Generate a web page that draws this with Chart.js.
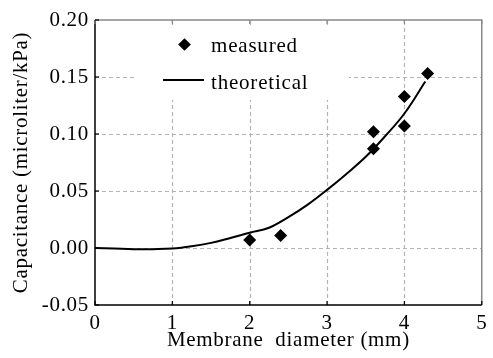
<!DOCTYPE html>
<html>
<head>
<meta charset="utf-8">
<script src="https://cdn.jsdelivr.net/npm/chart.js@4.4.1/dist/chart.umd.min.js"></script>
<style>
  body { margin: 0; background: #fff; }
  #wrap { position: relative; width: 493px; height: 358px; }
  .leg { position: absolute; font-family: 'Liberation Serif', serif; font-size: 21px; line-height: 24px; letter-spacing: 0.8px; color: #000; white-space: nowrap; }
  .diamond { position: absolute; width: 9px; height: 9px; background: #000; transform: rotate(45deg); }
  .lline { position: absolute; height: 2px; background: #000; }
</style>
</head>
<body>
<div id="wrap">
  <canvas id="chart" width="493" height="358"></canvas>
  <div class="diamond" style="left:179.5px; top:39.5px;"></div>
  <div class="leg" style="left:211px; top:33px;">measured</div>
  <div class="lline" style="left:163px; top:79px; width:41px;"></div>
  <div class="leg" style="left:211px; top:70px;">theoretical</div>
</div>
<script>
// measured points
const measuredX = [2.0, 2.4, 3.6, 3.6, 4.0, 4.0, 4.3];
const measuredY = [0.007, 0.011, 0.102, 0.087, 0.133, 0.107, 0.153];

// theoretical curve
const theoryX = [0, 0.25, 0.5, 0.75, 1.0, 1.25, 1.5, 1.75, 2.0, 2.25, 2.5, 2.75, 3.0, 3.25, 3.5, 3.75, 4.0, 4.27];
const theoryY = [0, -0.0005, -0.001, -0.001, -0.0005, 0.0015, 0.0045, 0.0088, 0.0134, 0.0178, 0.027, 0.038, 0.051, 0.065, 0.080, 0.098, 0.118, 0.146];

const xTicks = [0, 1, 2, 3, 4, 5];
const yTicks = [-0.05, 0, 0.05, 0.10, 0.15, 0.20];

const serif = 'Liberation Serif';

const frame = {
    id: 'frame',
    beforeDraw(chart) {
        chart.ctx.letterSpacing = '0.7px';
    },
    beforeDatasetsDraw(chart) {
        const c = chart.ctx;
        const a = chart.chartArea;
        const xs = chart.scales.x, ys = chart.scales.y;
        c.save();
        // dashed grid
        c.strokeStyle = '#b4b4b4';
        c.lineWidth = 1.2;
        c.setLineDash([4, 3]);
        xTicks.slice(1, -1).forEach(v => {
            const px = Math.round(xs.getPixelForValue(v)) + 0.5;
            c.beginPath(); c.moveTo(px, a.bottom); c.lineTo(px, a.top); c.stroke();
        });
        yTicks.slice(1, -1).forEach(v => {
            const py = Math.round(ys.getPixelForValue(v)) + 0.5;
            c.beginPath(); c.moveTo(a.left, py); c.lineTo(a.right, py); c.stroke();
        });
        c.setLineDash([]);
        // legend background hides the grid
        c.fillStyle = '#fff';
        c.fillRect(134, 26, 215, 74);
        c.restore();
    },
    afterDraw(chart) {
        const c = chart.ctx;
        const a = chart.chartArea;
        const xs = chart.scales.x, ys = chart.scales.y;
        c.save();
        c.lineWidth = 1.5;
        c.strokeStyle = '#888';
        c.beginPath();
        c.moveTo(a.left, a.top); c.lineTo(a.right, a.top); c.lineTo(a.right, a.bottom);
        c.stroke();
        c.strokeStyle = '#000';
        c.beginPath();
        c.moveTo(a.left, a.top); c.lineTo(a.left, a.bottom); c.lineTo(a.right, a.bottom);
        c.stroke();
        // inward ticks
        c.lineWidth = 1.2;
        xTicks.forEach(v => {
            const px = xs.getPixelForValue(v);
            c.strokeStyle = '#000';
            c.beginPath(); c.moveTo(px, a.bottom); c.lineTo(px, a.bottom - 4); c.stroke();
            c.strokeStyle = '#888';
            c.beginPath(); c.moveTo(px, a.top); c.lineTo(px, a.top + 4); c.stroke();
        });
        yTicks.forEach(v => {
            const py = ys.getPixelForValue(v);
            c.strokeStyle = '#000';
            c.beginPath(); c.moveTo(a.left, py); c.lineTo(a.left + 4, py); c.stroke();
        });
        c.restore();
    }
};

new Chart(document.getElementById('chart'), {
    type: 'scatter',
    data: {
        datasets: [{
            label: 'theoretical',
            data: theoryX.map((x, i) => ({ x: x, y: theoryY[i] })),
            showLine: true,
            borderColor: '#000',
            borderWidth: 2,
            pointRadius: 0,
            tension: 0.4,
            fill: false
        }, {
            label: 'measured',
            data: measuredX.map((x, i) => ({ x: x, y: measuredY[i] })),
            showLine: false,
            pointStyle: 'rectRot',
            pointRadius: 6.5,
            backgroundColor: '#000',
            borderColor: '#000',
            borderWidth: 0
        }]
    },
    options: {
        responsive: false,
        animation: false,
        layout: { padding: { top: 20, right: 4, left: 0, bottom: 0 } },
        plugins: {
            legend: { display: false },
            tooltip: { enabled: false }
        },
        scales: {
            x: {
                type: 'linear',
                min: 0,
                max: 5,
                afterFit(s) { s.height = 53; },
                afterBuildTicks(s) { s.ticks = xTicks.map(v => ({ value: v })); },
                ticks: {
                    color: '#000',
                    padding: 6,
                    font: { family: serif, size: 21 },
                    maxRotation: 0
                },
                grid: { display: false, drawTicks: false },
                border: { display: false },
                title: {
                    display: true,
                    text: 'Membrane  diameter (mm)',
                    color: '#000',
                    font: { family: serif, size: 21 },
                    padding: { top: 0, bottom: 5 }
                }
            },
            y: {
                min: -0.05,
                max: 0.20,
                afterFit(s) { s.width = 95; },
                afterBuildTicks(s) { s.ticks = yTicks.map(v => ({ value: v })); },
                ticks: {
                    color: '#000',
                    padding: 6,
                    font: { family: serif, size: 21 },
                    callback: v => v.toFixed(2)
                },
                grid: { display: false, drawTicks: false },
                border: { display: false },
                title: {
                    display: true,
                    text: 'Capacitance (microliter/kPa)',
                    color: '#000',
                    font: { family: serif, size: 21 },
                    padding: { top: 9, bottom: 0 }
                }
            }
        }
    },
    plugins: [frame]
});
</script>
</body>
</html>
